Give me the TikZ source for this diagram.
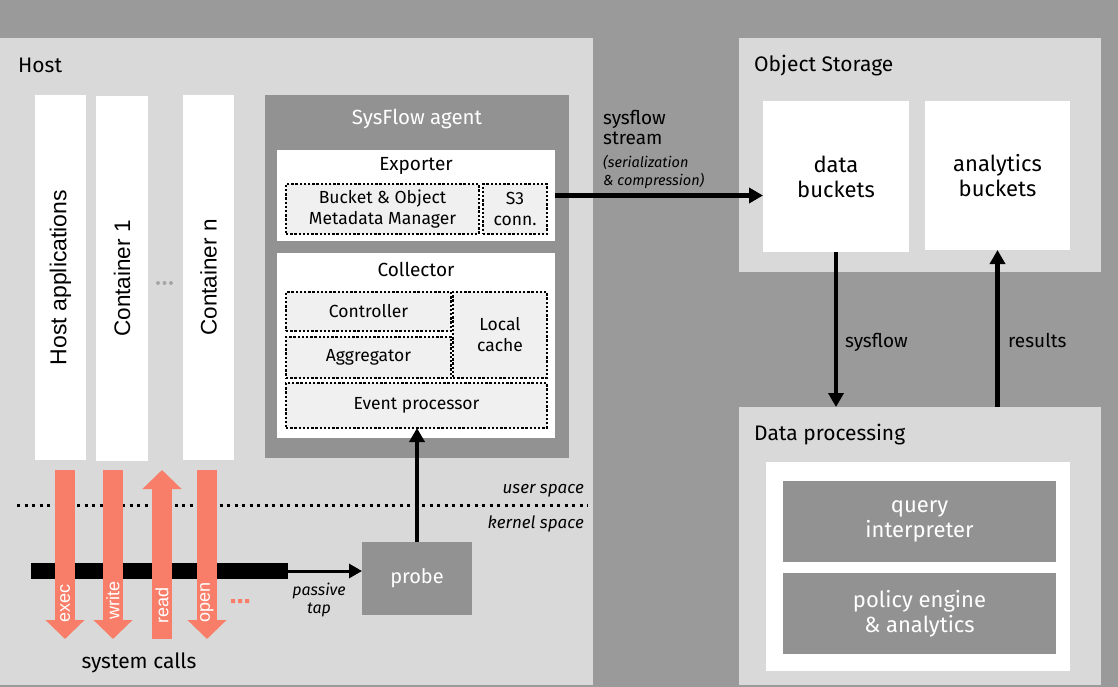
\documentclass[tikz,border=0pt]{standalone}
\usepackage{fontspec}
\setmainfont{Fira Sans}
\newfontfamily\arialfont{Liberation Sans}
\usetikzlibrary{positioning,arrows.meta,calc}

\definecolor{bggray}{RGB}{154,154,154}
\definecolor{panelgray}{RGB}{217,217,217}
\definecolor{agentgray}{RGB}{146,146,146}
\definecolor{dotfill}{RGB}{240,240,240}
\definecolor{salmon}{RGB}{248,126,106}

\tikzset{
  box/.style={anchor=north west, inner sep=0pt, outer sep=0pt, align=center},
  panel/.style={box, fill=panelgray},
  whitebox/.style={box, fill=white},
  graybox/.style={box, fill=agentgray, text=white},
  dotbox/.style={box, fill=dotfill, draw=black, line width=2.6pt, dash pattern=on 2.4pt off 1.8pt},
  title/.style={anchor=base west, inner sep=0pt, font=\fontsize{21}{25}\selectfont},
  flow/.style={-{Triangle[length=14pt, width=15pt]}, line width=4.5pt},
  syscall/.style={salmon, line width=20pt, -{Triangle[length=19pt, width=38pt]}},
  calllbl/.style={rotate=90, text=white, inner sep=0pt, font=\arialfont\fontsize{18}{20}\selectfont}
}

\begin{document}
\begin{tikzpicture}[x=1pt, y=-1pt]

  % Background
  \fill[bggray] (0,0) rectangle (1118,687);
  \useasboundingbox (0,0) rectangle (1118,687);

  % Host
  \node[panel, minimum width=593pt, minimum height=647pt] (host) at (0,38) {};
  \node[title] (hostlbl) at (18,73) {Host};

  % Applications and containers
  \node[whitebox, rotate=90, anchor=center, minimum width=365pt, minimum height=51pt,
        font=\arialfont\fontsize{23}{26}\selectfont] (hostapps) at (60.5,277.5) {Host applications};
  \node[whitebox, rotate=90, anchor=center, minimum width=365pt, minimum height=52pt,
        font=\arialfont\fontsize{22.5}{26}\selectfont] (cont1) at (122,278.5) {Container 1};
  \node[whitebox, rotate=90, anchor=center, minimum width=365pt, minimum height=51pt,
        font=\arialfont\fontsize{22.5}{26}\selectfont] (contn) at (208.5,277.5) {Container n};
  \fill[gray!70] (158,283) circle (2pt) (164.5,283) circle (2pt) (171,283) circle (2pt);

  % SysFlow agent
  \node[graybox, minimum width=304pt, minimum height=363pt] (agent) at (265,95) {};
  \node[text=white, font=\fontsize{20.5}{24}\selectfont] (agentlbl) at (417,119) {SysFlow agent};

  % Exporter
  \node[whitebox, minimum width=278pt, minimum height=91pt] (exporter) at (277,150) {};
  \node[font=\fontsize{19}{23}\selectfont] (exportlbl) at (416,166) {Exporter};
  \node[dotbox, minimum width=193pt, minimum height=50pt, font=\fontsize{17.5}{21}\selectfont] (bucketmgr) at (286,184)
    {Bucket \& Object\\Metadata Manager};
  \node[dotbox, minimum width=64pt, minimum height=50pt, font=\fontsize{17.5}{21}\selectfont] (s3conn) at (483,184)
    {S3\\conn.};

  % Collector
  \node[whitebox, minimum width=278pt, minimum height=185pt] (collector) at (277,253) {};
  \node[font=\fontsize{19}{23}\selectfont] (collectlbl) at (416,269) {Collector};
  \node[dotbox, minimum width=165pt, minimum height=39pt, font=\fontsize{17.5}{21}\selectfont] (controller) at (286,292) {Controller};
  \node[dotbox, minimum width=165pt, minimum height=41pt, font=\fontsize{17.5}{21}\selectfont] (aggregator) at (286,337) {Aggregator};
  \node[dotbox, minimum width=94pt, minimum height=86pt, font=\fontsize{17.5}{21}\selectfont] (localcache) at (453,292) {Local\\cache};
  \node[dotbox, minimum width=261pt, minimum height=45pt, font=\fontsize{17.5}{21}\selectfont] (evproc) at (286,383) {Event processor};

  % User / kernel space
  \draw[line width=3pt, dash pattern=on 3pt off 4.5pt] (17,505) -- (588,505);
  \node[anchor=base east, inner sep=0pt, font=\itshape\fontsize{17}{20}\selectfont] (userlbl) at (584,493) {user space};
  \node[anchor=base east, inner sep=0pt, font=\itshape\fontsize{17}{20}\selectfont] (kernlbl) at (584,528) {kernel space};

  % Probe
  \node[graybox, minimum width=110pt, minimum height=73pt, font=\fontsize{20}{24}\selectfont] (probe) at (362,542) {probe};
  \node[box, fill=black, minimum width=257pt, minimum height=16pt] (sysbar) at (31,563) {};
  \draw[-{Triangle[length=13pt, width=14pt]}, line width=3pt] (sysbar.east) -- (sysbar.east -| probe.west);
  \node[inner sep=0pt, align=center, font=\itshape\fontsize{16}{18}\selectfont] (tap) at (319,600) {passive\\tap};
  \draw[flow] (probe.north) -- (probe.north |- evproc.south);

  % System calls
  \coordinate (exectop) at (65,470);   \coordinate (execend) at (65,639);
  \coordinate (writetop) at (113,470); \coordinate (writeend) at (113,639);
  \coordinate (readtop) at (162,470);  \coordinate (readend) at (162,639);
  \coordinate (opentop) at (207,470);  \coordinate (openend) at (207,639);
  \draw[syscall] (exectop) -- (execend);
  \draw[syscall] (writetop) -- (writeend);
  \draw[syscall] (readend) -- (readtop);
  \draw[syscall] (opentop) -- (openend);
  \node[calllbl] (execlbl) at (65,603) {exec};
  \node[calllbl] (writelbl) at (113,600) {write};
  \node[calllbl] (readlbl) at (162,605) {read};
  \node[calllbl] (openlbl) at (207,602) {open};
  \fill[salmon] (231,599) rectangle +(4,4) (238,599) rectangle +(4,4) (245,599) rectangle +(4,4);
  \node[anchor=base, inner sep=0pt, font=\fontsize{21}{25}\selectfont] (syscalls) at (139,668) {system calls};

  % Object storage
  \node[panel, minimum width=362pt, minimum height=234pt] (objstore) at (739,38) {};
  \node[title] (objlbl) at (754,72) {Object Storage};
  \node[whitebox, minimum width=146pt, minimum height=151pt, font=\fontsize{22}{25}\selectfont] (databkt) at (763,101) {data\\buckets};
  \node[whitebox, minimum width=145pt, minimum height=149pt, font=\fontsize{22}{25}\selectfont] (analytics) at (925,101) {analytics\\buckets};

  % Data processing
  \node[panel, minimum width=362pt, minimum height=278pt] (dataproc) at (739,407) {};
  \node[title] (proclbl) at (754,440) {Data processing};
  \node[whitebox, minimum width=304pt, minimum height=209pt] (procinner) at (766,462) {};
  \node[graybox, minimum width=273pt, minimum height=81pt, font=\fontsize{22}{25}\selectfont] (query) at (783,481) {query\\interpreter};
  \node[graybox, minimum width=273pt, minimum height=81pt, font=\fontsize{22}{25}\selectfont] (policy) at (783,573) {policy engine\\\& analytics};

  % Flows
  \draw[flow] (exporter.east) -- (exporter.east -| databkt.west);
  \node[anchor=north west, inner sep=0pt, align=left, font=\fontsize{19}{20}\selectfont] (streamlbl) at (603,110) {sysflow\\stream};
  \node[anchor=north west, inner sep=0pt, align=left, font=\itshape\fontsize{14.5}{18}\selectfont] (serlbl) at (603,155) {(serialization\\\& compression)};
  \draw[flow] (databkt.south) -- (databkt.south |- dataproc.north);
  \node[anchor=base west, inner sep=0pt, font=\fontsize{19}{23}\selectfont] (sflbl) at (845,347) {sysflow};
  \draw[flow] (analytics.south |- dataproc.north) -- (analytics.south);
  \node[anchor=base west, inner sep=0pt, font=\fontsize{19}{23}\selectfont] (reslbl) at (1008,347) {results};

\end{tikzpicture}
\end{document}
